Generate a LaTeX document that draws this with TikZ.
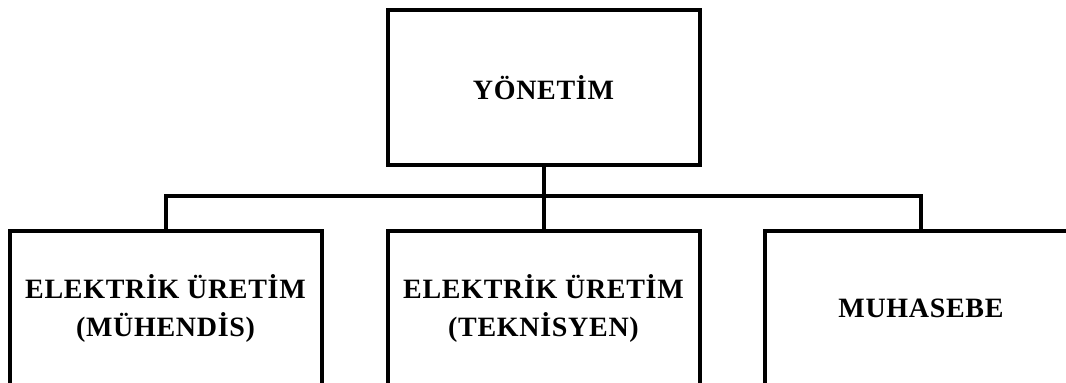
\documentclass[tikz,border=0pt]{standalone}
\usepackage{fontspec}
\setmainfont{Liberation Serif}[LetterSpace=2.5]
\begin{document}
\begin{tikzpicture}[x=1pt,y=-1pt,
  unit/.style={draw=black,line width=4pt,fill=white,rectangle,
    minimum width=312pt,minimum height=155pt,inner sep=0pt,
    align=center,font=\fontsize{28}{38}\selectfont\bfseries},
  link/.style={draw=black,line width=4pt}]
\useasboundingbox (0,0) rectangle (1066,383);
% top level
\node[unit] (yon) at (543.5,87.5) {YÖNETİM};
% second level
\node[unit] (muh) at (165.5,308) {ELEKTRİK ÜRETİM\\(MÜHENDİS)};
\node[unit] (tek) at (543.5,308) {ELEKTRİK ÜRETİM\\(TEKNİSYEN)};
\node[unit] (mhs) at (921,308) {MUHASEBE};
% connectors
\draw[link] (yon.south) -- (tek.north);
\draw[link] (muh.north) -- ++(0,-33) -| (mhs.north);
\end{tikzpicture}
\end{document}
